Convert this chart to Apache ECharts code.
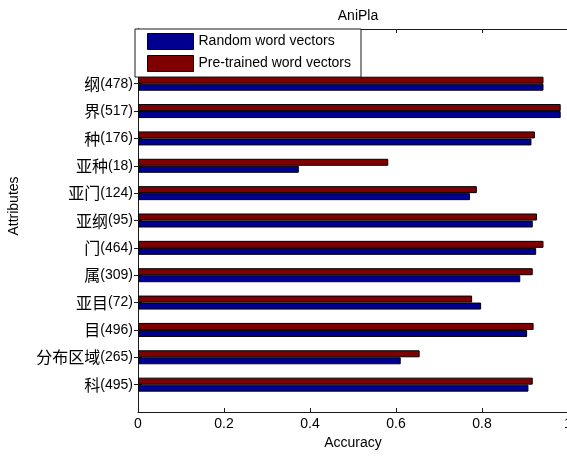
<!DOCTYPE html>
<html>
<head>
<meta charset="utf-8">
<title>AniPla</title>
<script src="https://cdn.jsdelivr.net/npm/echarts@6/dist/echarts.min.js"></script>
<style>
  html, body { margin: 0; padding: 0; background: #fff; }
  #chart { width: 567px; height: 456px; }
</style>
</head>
<body>
<div id="chart"></div>
<script>
// Attribute names with sample counts, listed bottom to top
const attributes = ['科(495)', '分布区域(265)', '目(496)', '亚目(72)', '属(309)', '门(464)',
                    '亚纲(95)', '亚门(124)', '亚种(18)', '种(176)', '界(517)', '纲(478)'];
// Accuracy with random word vectors
const randomVectors = [0.908, 0.611, 0.905, 0.798, 0.889, 0.926, 0.918, 0.772, 0.374, 0.915, 0.983, 0.943];
// Accuracy with pre-trained word vectors
const pretrainedVectors = [0.918, 0.655, 0.920, 0.777, 0.918, 0.943, 0.928, 0.788, 0.582, 0.923, 0.983, 0.943];
// Accuracy axis ticks
const accuracyTicks = [0, 0.2, 0.4, 0.6, 0.8, 1];

// The vertical axis spans 0..14 with attributes at 1..12, leaving room for the legend on top
const yCategories = [''].concat(attributes, ['', '']);
const pad = arr => [null].concat(arr, [null, null]);

const font = '"Liberation Sans", Arial, "Noto Sans CJK SC", sans-serif';
const axisColor = '#1a1a1a';

const chart = echarts.init(document.getElementById('chart'), null, { renderer: 'canvas' });

chart.setOption({
  animation: false,
  backgroundColor: '#ffffff',
  textStyle: { fontFamily: font, color: '#000' },
  title: {
    text: 'AniPla',
    left: 353,
    top: 4,
    textAlign: 'center',
    textStyle: { fontSize: 14, fontWeight: 'normal', color: '#000', fontFamily: font }
  },
  legend: {
    data: ['Random word vectors', 'Pre-trained word vectors'],
    orient: 'vertical',
    left: 135,
    top: 29,
    padding: [4, 10, 5, 12],
    itemGap: 5,
    itemWidth: 46,
    itemHeight: 16,
    icon: 'rect',
    backgroundColor: '#fff',
    borderColor: axisColor,
    borderWidth: 1,
    borderRadius: 0,
    selectedMode: false,
    itemStyle: { borderColor: '#000', borderWidth: 1 },
    textStyle: { fontSize: 14, color: '#000', fontFamily: font }
  },
  grid: {
    left: 138, top: 29, width: 430, height: 383,
    containLabel: false,
    outerBoundsMode: 'none'
  },
  xAxis: [
    {
      type: 'value',
      position: 'bottom',
      min: 0, max: 1, interval: 0.2,
      name: 'Accuracy',
      nameLocation: 'middle',
      nameGap: 23,
      nameTextStyle: { fontSize: 14, color: '#000', fontFamily: font },
      axisLine: { show: true, lineStyle: { color: axisColor, width: 1 } },
      axisTick: { show: true, inside: true, length: 4, lineStyle: { color: axisColor } },
      axisLabel: {
        fontSize: 14, color: '#000', margin: 5, fontFamily: font,
        hideOverlap: false,
        formatter: v => {
          const t = accuracyTicks.find(k => Math.abs(k - v) < 1e-9);
          return t === undefined ? '' : String(t);
        }
      },
      splitLine: { show: false }
    },
    {
      type: 'value',
      position: 'top',
      min: 0, max: 1, interval: 0.2,
      axisLine: { show: true, lineStyle: { color: axisColor, width: 1 } },
      axisTick: { show: true, inside: true, length: 4, lineStyle: { color: axisColor } },
      axisLabel: { show: false },
      splitLine: { show: false }
    }
  ],
  yAxis: [
    {
      type: 'category',
      position: 'left',
      data: yCategories,
      boundaryGap: false,
      axisLine: { show: true, lineStyle: { color: axisColor, width: 1 } },
      axisTick: {
        show: true, inside: true, length: 4, lineStyle: { color: axisColor },
        interval: (idx, val) => val !== ''
      },
      axisLabel: {
        interval: 0,
        margin: 5,
        color: '#000',
        formatter: val => {
          if (!val) return '';
          const m = val.match(/^(.*?)(\(\d+\))$/);
          return '{c|' + m[1] + '}{n|' + m[2] + '}';
        },
        rich: {
          c: { fontSize: 16, color: '#000', fontFamily: '"Noto Sans CJK SC", sans-serif' },
          n: { fontSize: 14, color: '#000', fontFamily: font }
        }
      },
      splitLine: { show: false }
    },
    {
      type: 'category',
      position: 'right',
      data: yCategories,
      boundaryGap: false,
      axisLine: { show: true, lineStyle: { color: axisColor, width: 1 } },
      axisTick: {
        show: true, inside: true, length: 4, lineStyle: { color: axisColor },
        interval: (idx, val) => val !== ''
      },
      axisLabel: { show: false },
      splitLine: { show: false }
    }
  ],
  graphic: [
    {
      type: 'text',
      x: 14,
      y: 206,
      rotation: Math.PI / 2,
      style: {
        text: 'Attributes',
        fontSize: 14,
        fontFamily: font,
        fill: '#000',
        align: 'center',
        verticalAlign: 'middle'
      }
    }
  ],
  series: [
    {
      name: 'Pre-trained word vectors',
      type: 'bar',
      xAxisIndex: 0,
      yAxisIndex: 0,
      data: pad(pretrainedVectors),
      barWidth: 7,
      barGap: '0%',
      itemStyle: { color: '#7f0000', borderColor: '#000', borderWidth: 1 }
    },
    {
      name: 'Random word vectors',
      type: 'bar',
      xAxisIndex: 0,
      yAxisIndex: 0,
      data: pad(randomVectors),
      barWidth: 7,
      barGap: '0%',
      itemStyle: { color: '#000090', borderColor: '#000', borderWidth: 1 }
    }
  ]
});
</script>
</body>
</html>
